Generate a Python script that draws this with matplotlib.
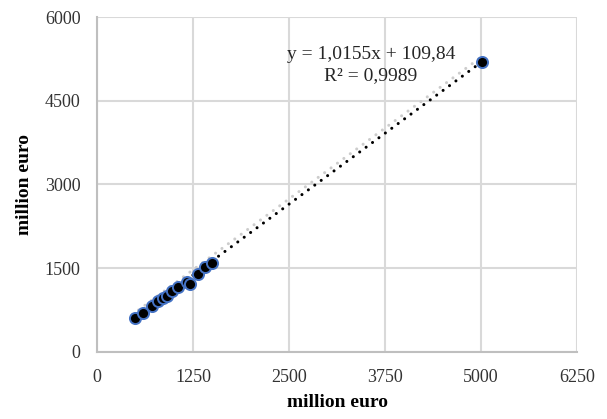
import matplotlib.pyplot as plt
import matplotlib.transforms as mtransforms
import numpy as np

# data (million euro)
x_vals = [495, 599, 716, 794, 859, 911, 977, 1055, 1172, 1211, 1315, 1406, 1497, 5013]
y_vals = [600, 700, 830, 905, 970, 1000, 1100, 1165, 1245, 1215, 1400, 1530, 1590, 5200]

slope = 1.0155
intercept = 109.84
eq_text = "y = 1,0155x + 109,84\nR² = 0,9989"

x_ticks = [0, 1250, 2500, 3750, 5000, 6250]
y_ticks = [0, 1500, 3000, 4500, 6000]

plt.rcParams['font.family'] = ['Liberation Serif', 'DejaVu Serif']

fig = plt.figure(figsize=(6.07, 4.19), dpi=100)
ax = fig.add_axes([0.16, 0.16, 0.7906, 0.7994])

grid_col = '#d9d9d9'
ax.grid(True, color=grid_col, linewidth=1.5)
ax.set_axisbelow(True)
for s in ['top', 'right']:
    ax.spines[s].set_visible(False)
for s in ['left', 'bottom']:
    ax.spines[s].set_color('#bfbfbf')
    ax.spines[s].set_linewidth(1.5)

# trend line (black dots) plus a faint grey shadow copy
tx = np.array([min(x_vals), max(x_vals)])
ty = slope * tx + intercept
shadow = mtransforms.offset_copy(ax.transData, fig=fig, x=-3, y=3, units='dots')
ax.plot(tx, ty, color='#cccccc', linewidth=2.2, linestyle=(0, (0.01, 2.6)),
        dash_capstyle='round', transform=shadow, zorder=2)
ax.plot(tx, ty, color='black', linewidth=2.2, linestyle=(0, (0.01, 2.6)),
        dash_capstyle='round', zorder=3)

ax.plot(x_vals, y_vals, linestyle='none', marker='o', markersize=8,
        markerfacecolor='black', markeredgecolor='#4472c4', markeredgewidth=1.4,
        zorder=4)

ax.text(3568, 5140, eq_text, ha='center', va='center', fontsize=14,
        linespacing=1.25, color='#262626')

ax.set_xlim(0, 6250)
ax.set_ylim(0, 6000)
ax.set_xticks(x_ticks)
ax.set_yticks(y_ticks)
ax.tick_params(length=0, labelsize=13)
ax.tick_params(axis='x', pad=12)
ax.tick_params(axis='y', pad=12)
for lab in ax.get_xticklabels() + ax.get_yticklabels():
    lab.set_color('#333333')

ax.set_xlabel('million euro', fontsize=14, fontweight='bold', labelpad=6)
ax.set_ylabel('million euro', fontsize=14, fontweight='bold', labelpad=8)

fig.savefig('out.png', dpi=100)
